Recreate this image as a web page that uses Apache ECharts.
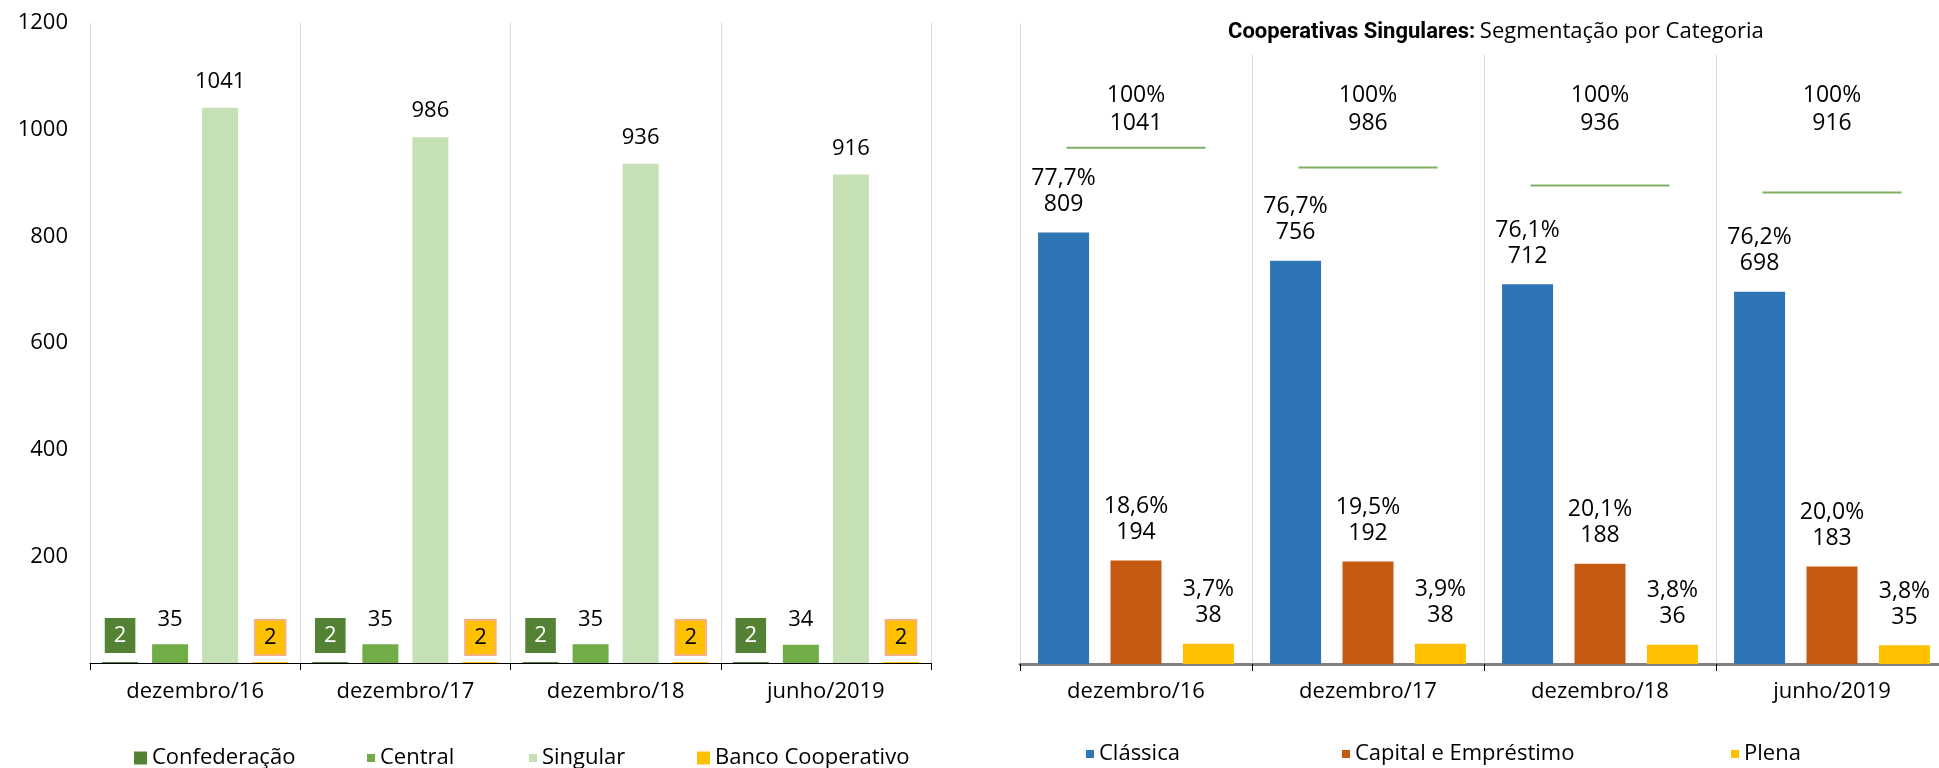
<!DOCTYPE html>
<html>
<head>
<meta charset="utf-8">
<script src="https://cdn.jsdelivr.net/npm/echarts@6/dist/echarts.min.js"></script>
<style>
html,body{margin:0;padding:0;background:#fff;overflow:hidden;width:1939px;height:768px;}
#c{width:1948px;height:768px;}
</style>
</head>
<body>
<div id="c"></div>
<script>
const categories = ['dezembro/16', 'dezembro/17', 'dezembro/18', 'junho/2019'];
// Left chart
const confederacao = [2, 2, 2, 2];
const central = [35, 35, 35, 34];
const singular = [1041, 986, 936, 916];
const bancoCooperativo = [2, 2, 2, 2];
const leftAxisMin = 0, leftAxisMax = 1200, leftAxisStep = 200;
// Right chart
const classica = [809, 756, 712, 698];
const capitalEmprestimo = [194, 192, 188, 183];
const plena = [38, 38, 36, 35];
const classicaPct = [77.7, 76.7, 76.1, 76.2];
const capitalPct = [18.6, 19.5, 20.1, 20.0];
const plenaPct = [3.7, 3.9, 3.8, 3.8];
const totalSingular = [1041, 986, 936, 916];
const totalPct = [100, 100, 100, 100];

const FONT = 'Open Sans';
const fmtPct = v => v.toFixed(1).replace('.', ',');

const chart = echarts.init(document.getElementById('c'), null, {renderer: 'canvas'});

function legend(name, left, top, size) {
  return {
    data: [name], left: left, top: top, padding: 0, orient: 'horizontal',
    itemWidth: size, itemHeight: size, icon: 'rect',
    textStyle: {fontFamily: FONT, fontSize: 22, color: '#000'}
  };
}

const leftLabel = (extra) => Object.assign({
  show: true, position: 'top', fontFamily: FONT, fontSize: 22, color: '#000', lineHeight: 22, distance: 15
}, extra || {});

const rightLabel = (pcts) => ({
  show: true, position: 'top', distance: 15, fontFamily: FONT, fontSize: 23, lineHeight: 26, color: '#000',
  formatter: p => fmtPct(pcts[p.dataIndex]) + '%\n' + p.value
});

const option = {
  animation: false,
  textStyle: {fontFamily: FONT},
  title: {
    left: 1228, top: 19, padding: 0,
    text: '{b|Cooperativas Singulares:} {r|Segmentação por Categoria}',
    textStyle: {
      rich: {
        b: {fontFamily: 'Roboto', fontWeight: 'bold', fontSize: 22, color: '#000', lineHeight: 26},
        r: {fontFamily: FONT, fontWeight: 'normal', fontSize: 22, color: '#000', lineHeight: 26}
      }
    }
  },
  legend: [
    legend('Confederação', 134, 747, 13),
    legend('Central', 367, 747, 8),
    legend('Singular', 529, 747, 8),
    legend('Banco Cooperativo', 697, 747, 13),
    legend('Clássica', 1086, 743, 8),
    legend('Capital e Empréstimo', 1342, 743, 8),
    legend('Plena', 1731, 743, 8)
  ],
  grid: [
    {left: 90, width: 841, top: 23, bottom: 105, containLabel: false},
    {left: 1020, width: 928, top: 24, bottom: 104, containLabel: false},
    {left: 1020, width: 928, top: 55, bottom: 104, containLabel: false}
  ],
  xAxis: [
    {
      gridIndex: 0, type: 'category', data: categories,
      axisLine: {show: true, lineStyle: {color: '#000', width: 1}},
      axisTick: {show: true, length: 7, lineStyle: {color: '#000'}},
      axisLabel: {fontFamily: FONT, fontSize: 22, color: '#000', margin: 18},
      splitLine: {show: true, lineStyle: {color: '#d9d9d9', width: 1}}
    },
    {
      gridIndex: 1, type: 'category', data: categories,
      axisLine: {show: true, lineStyle: {color: '#808080', width: 3}},
      axisTick: {show: true, length: 7, lineStyle: {color: '#000'}},
      axisLabel: {fontFamily: FONT, fontSize: 22, color: '#000', margin: 17},
      splitLine: {show: false}
    },
    {
      gridIndex: 2, type: 'category', data: categories, position: 'top',
      axisLine: {show: false}, axisTick: {show: false},
      axisLabel: {
        inside: true, margin: 26, fontFamily: FONT, fontSize: 23, lineHeight: 28, color: '#000',
        formatter: (v, i) => totalPct[i] + '%\n' + totalSingular[i]
      },
      splitLine: {show: true, lineStyle: {color: '#d9d9d9', width: 1}}
    }
  ],
  yAxis: [
    {
      gridIndex: 0, type: 'value', min: leftAxisMin, max: leftAxisMax, interval: leftAxisStep,
      axisLine: {show: false}, axisTick: {show: false}, splitLine: {show: false},
      axisLabel: {fontFamily: FONT, fontSize: 22, color: '#000', margin: 22, showMinLabel: false,
        formatter: v => String(v)}
    },
    {
      gridIndex: 1, type: 'value', min: 0, max: 1200,
      axisLine: {show: true, lineStyle: {color: '#d9d9d9', width: 1}},
      axisTick: {show: false}, axisLabel: {show: false}, splitLine: {show: false}
    },
    {
      gridIndex: 2, type: 'value', min: -400, max: 1300, show: false
    }
  ],
  series: [
    {
      name: 'Confederação', type: 'bar', xAxisIndex: 0, yAxisIndex: 0, data: confederacao,
      barWidth: 36, barGap: '39%', itemStyle: {color: '#548235'},
      label: leftLabel({distance: 9, color: '#fff', backgroundColor: '#548235', padding: [5, 9], lineHeight: 25})
    },
    {
      name: 'Central', type: 'bar', xAxisIndex: 0, yAxisIndex: 0, data: central,
      barWidth: 36, barGap: '39%', itemStyle: {color: '#70AD47'},
      label: leftLabel({distance: 14})
    },
    {
      name: 'Singular', type: 'bar', xAxisIndex: 0, yAxisIndex: 0, data: singular,
      barWidth: 36, barGap: '39%', itemStyle: {color: '#C5E0B4'},
      label: leftLabel({distance: 15})
    },
    {
      name: 'Banco Cooperativo', type: 'bar', xAxisIndex: 0, yAxisIndex: 0, data: bancoCooperativo,
      barWidth: 36, barGap: '39%', itemStyle: {color: '#FFC000'},
      label: leftLabel({distance: 8, backgroundColor: '#FFC000', borderColor: '#F4B183', borderWidth: 2, padding: [4, 8], lineHeight: 25})
    },
    {
      name: 'Clássica', type: 'bar', xAxisIndex: 1, yAxisIndex: 1, data: classica,
      barWidth: 51, barGap: '42%', itemStyle: {color: '#2E75B6'},
      label: rightLabel(classicaPct)
    },
    {
      name: 'Capital e Empréstimo', type: 'bar', xAxisIndex: 1, yAxisIndex: 1, data: capitalEmprestimo,
      barWidth: 51, barGap: '42%', itemStyle: {color: '#C55A11'},
      label: rightLabel(capitalPct)
    },
    {
      name: 'Plena', type: 'bar', xAxisIndex: 1, yAxisIndex: 1, data: plena,
      barWidth: 51, barGap: '42%', itemStyle: {color: '#FFC000'},
      label: rightLabel(plenaPct)
    },
    {
      name: 'Total Singulares', type: 'scatter', xAxisIndex: 2, yAxisIndex: 2, data: totalSingular,
      symbol: 'rect', symbolSize: [139, 2], itemStyle: {color: '#5E9E3A'}, silent: true
    }
  ]
};
chart.setOption(option);
</script>
</body>
</html>
